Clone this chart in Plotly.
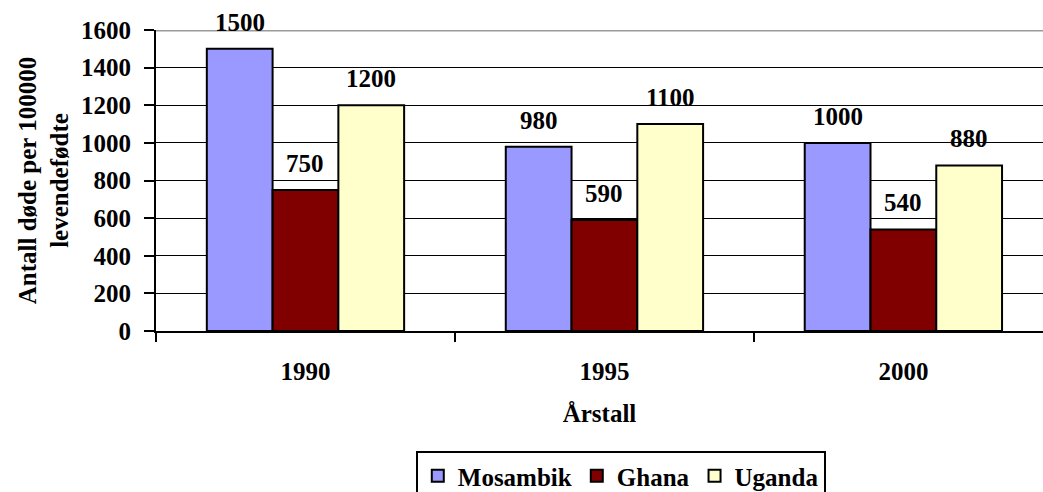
import plotly.graph_objects as go

years = ["1990", "1995", "2000"]
series_names = ["Mosambik", "Ghana", "Uganda"]
mosambik = [1500, 980, 1000]
ghana = [750, 590, 540]
uganda = [1200, 1100, 880]
colors = ["#9999FF", "#800000", "#FFFFCC"]
y_ticks = [0, 200, 400, 600, 800, 1000, 1200, 1400, 1600]

FONT = "Liberation Serif"
FS = 25
values = [mosambik, ghana, uganda]

fig = go.Figure()
for name, vals, col in zip(series_names, values, colors):
    fig.add_trace(go.Bar(
        name=name, x=years, y=vals,
        marker=dict(color=col, line=dict(color="black", width=2)),
    ))

# data labels
offsets = [-0.22, 0.0, 0.22]
for vals, off in zip(values, offsets):
    for i, v in enumerate(vals):
        fig.add_annotation(x=i + off, y=v, xref="x", yref="y", text=str(v),
                           showarrow=False, yanchor="bottom", yshift=11,
                           font=dict(family=FONT, size=FS, color="black", weight="bold"))

fig.add_shape(type="line", xref="paper", yref="y", x0=0, x1=1, y0=1600, y1=1600,
              line=dict(color="#999999", width=3), layer="above")

fig.update_layout(
    width=1043, height=492,
    margin=dict(l=156, r=0, t=30, b=161),
    paper_bgcolor="white", plot_bgcolor="white",
    barmode="group", bargap=0.34, bargroupgap=0,
    font=dict(family=FONT, size=FS, color="black"),
    showlegend=True,
    legend=dict(orientation="h", x=0.524, xanchor="center", xref="paper",
                y=0, yref="container", yanchor="bottom",
                bordercolor="black", borderwidth=2, bgcolor="white",
                font=dict(family=FONT, size=FS, color="black", weight="bold"),
                itemwidth=30, tracegroupgap=0),
    xaxis=dict(
        range=[-0.5, 2.467], showgrid=False, showline=True, linecolor="black", linewidth=2,
        ticks="outside", tickson="boundaries", ticklen=9, tickwidth=2, tickcolor="black",
        tickfont=dict(family=FONT, size=FS, color="black", weight="bold"), ticklabelstandoff=17,
        title=dict(text="<b>Årstall</b>", font=dict(family=FONT, size=FS), standoff=20),
        automargin=False,
    ),
    yaxis=dict(
        range=[0, 1600], tickvals=y_ticks, showgrid=True, gridcolor="black", gridwidth=1,
        showline=True, linecolor="black", linewidth=2, zeroline=False,
        ticks="outside", ticklen=10, tickwidth=2, tickcolor="black",
        tickfont=dict(family=FONT, size=FS, color="black", weight="bold"), ticklabelstandoff=8,
        tickformat="d",
        title=dict(text="<b>Antall døde per 100000<br>levendefødte</b>",
                   font=dict(family=FONT, size=FS), standoff=5),
        automargin=False,
    ),
)

# page tweaks: no body margin; nudge the legend down so it is clipped at the bottom like the original
post = """
document.body.style.margin='0';
document.body.style.overflow='hidden';
var lg = document.querySelector('g.legend');
if (lg) {
  var t = lg.getAttribute('transform') || '';
  var m = t.match(/translate\\(([-\\d.]+)[ ,]+([-\\d.]+)\\)/);
  if (m) { lg.setAttribute('transform', 'translate(' + m[1] + ',' + (parseFloat(m[2]) + 9) + ')'); }
}
"""

fig.write_html("out.html", config={"displayModeBar": False}, post_script=post)
